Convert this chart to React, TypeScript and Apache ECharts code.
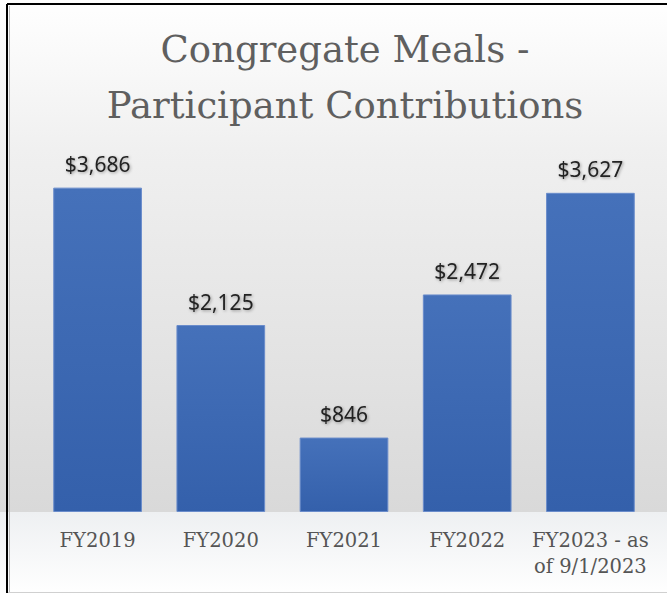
import React, { useEffect, useRef } from "react";
import * as echarts from "echarts";

const categories = ["FY2019", "FY2020", "FY2021", "FY2022", "FY2023 - as\nof 9/1/2023"];
const contributions = [3686, 2125, 846, 2472, 3627];
const titleLines = ["Congregate Meals -", "Participant Contributions"];

export default function App() {
  const ref = useRef<HTMLDivElement>(null);
  useEffect(() => {
    if (!ref.current) return;
    const chart = echarts.init(ref.current, null, { renderer: "svg" });
    chart.setOption({
      animation: false,
      backgroundColor: {
        type: "linear",
        x: 0, y: 0, x2: 0, y2: 1,
        colorStops: [
          { offset: 0, color: "#ffffff" },
          { offset: 0.25, color: "#f0f0f0" },
          { offset: 0.6, color: "#e3e3e3" },
          { offset: 0.86, color: "#d9d9d9" },
          { offset: 0.861, color: "#eef0f2" },
          { offset: 1, color: "#ffffff" },
        ],
      },
      title: {
        text: titleLines.join("\n"),
        left: 340,
        textAlign: "center",
        top: 16,
        textStyle: {
          fontFamily: "DejaVu Serif",
          fontSize: 37,
          fontWeight: "normal",
          color: "#5f5f5f",
          lineHeight: 56,
        },
      },
      grid: { left: 36, right: 15, top: 160, bottom: 83 },
      xAxis: {
        type: "category",
        data: categories,
        axisLine: { show: false },
        axisTick: { show: false },
        axisLabel: {
          interval: 0,
          margin: 15,
          fontFamily: "DejaVu Serif",
          fontSize: 19.5,
          color: "#555555",
          lineHeight: 26,
        },
      },
      yAxis: {
        type: "value",
        min: 0,
        max: 4000,
        show: false,
        splitLine: { show: false },
      },
      series: [
        {
          type: "bar",
          data: contributions,
          barCategoryGap: "28%",
          itemStyle: {
            color: {
              type: "linear",
              x: 0, y: 0, x2: 0, y2: 1,
              colorStops: [
                { offset: 0, color: "#4571ba" },
                { offset: 1, color: "#3460ab" },
              ],
            },
            borderColor: "#6a8ccb",
            borderWidth: 1,
          },
          label: {
            show: true,
            position: "top",
            distance: 13,
            fontFamily: "Noto Sans",
            fontSize: 21,
            color: "#222222",
            textShadowColor: "rgba(0,0,0,0.35)",
            textShadowBlur: 3,
            textShadowOffsetX: 1,
            textShadowOffsetY: 1,
            formatter: (p: any) => "$" + p.value.toLocaleString("en-US"),
          },
        },
      ],
      graphic: [
        { type: "line", shape: { x1: 7, y1: 4, x2: 667, y2: 4 }, style: { stroke: "#000", lineWidth: 2 } },
        { type: "line", shape: { x1: 7, y1: 4, x2: 7, y2: 593 }, style: { stroke: "#000", lineWidth: 2 } },
        { type: "line", shape: { x1: 9.5, y1: 6, x2: 9.5, y2: 592 }, style: { stroke: "#bbbbbb", lineWidth: 1 } },
        { type: "line", shape: { x1: 8, y1: 592.5, x2: 667, y2: 592.5 }, style: { stroke: "#d0d0d0", lineWidth: 1 } },
      ],
    });
    return () => chart.dispose();
  }, []);
  return (
    <div
      ref={ref}
      style={{ position: "absolute", left: 0, top: 0, width: 667, height: 595 }}
    />
  );
}
